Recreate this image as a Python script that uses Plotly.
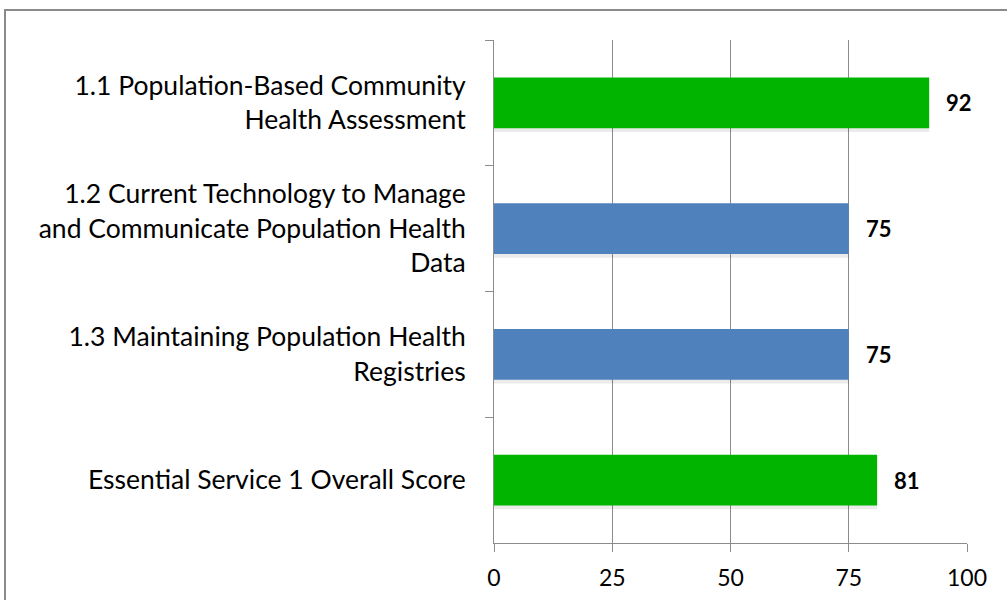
import plotly.graph_objects as go

categories = [
    "1.1 Population-Based Community<br>Health Assessment",
    "1.2 Current Technology to Manage<br>and Communicate Population Health<br>Data",
    "1.3 Maintaining Population Health<br>Registries",
    "Essential Service 1 Overall Score",
]
values = [92, 75, 75, 81]
colors = ["#00B400", "#4F81BD", "#4F81BD", "#00B400"]
tick_vals = [0, 25, 50, 75, 100]

W, H = 1007, 600
L, R, T, B = 494, 40, 40, 57
pw, ph = W - L - R, H - T - B
bar_w = 0.405

fig = go.Figure()
# soft shadow under the bars
fig.add_trace(go.Bar(
    y=categories, x=values, orientation="h",
    marker=dict(color="rgba(0,0,0,0.08)", line=dict(width=0)),
    width=bar_w, offset=-bar_w / 2 + 0.03, hoverinfo="skip",
))
fig.add_trace(go.Bar(
    y=categories, x=values, orientation="h",
    marker=dict(color=colors, line=dict(width=0)),
    width=bar_w, offset=-bar_w / 2, hoverinfo="skip",
))
for c, v in zip(categories, values):
    fig.add_annotation(x=v, y=c, text="<b>%d</b>" % v, showarrow=False,
                       xanchor="left", xshift=15,
                       font=dict(size=22, color="#000000", family="Lato"))

fig.add_shape(type="rect", xref="paper", yref="paper",
              x0=(5 - L) / pw, x1=1.3, y0=-0.3, y1=(H - B - 10) / ph,
              line=dict(color="#8a8a8a", width=2), fillcolor="rgba(0,0,0,0)")

fig.update_layout(
    width=W, height=H, autosize=False,
    margin=dict(l=L, r=R, t=T, b=B, pad=0, autoexpand=False),
    paper_bgcolor="white", plot_bgcolor="white",
    showlegend=False, barmode="overlay",
    font=dict(family="Lato", size=26.5, color="#000000"),
    xaxis=dict(range=[0, 100], tickvals=tick_vals, showgrid=True,
               gridcolor="#8c8c8c", gridwidth=1, zeroline=False,
               showline=True, linecolor="#8c8c8c", linewidth=1,
               ticks="outside", ticklen=8, tickcolor="#8c8c8c",
               ticklabelstandoff=6, automargin=False,
               tickfont=dict(size=23), fixedrange=True),
    yaxis=dict(autorange="reversed", showgrid=False, zeroline=False,
               showline=True, linecolor="#8c8c8c", linewidth=1,
               ticks="outside", ticklen=8, tickcolor="#8c8c8c",
               tickson="boundaries", ticklabelstandoff=22, automargin=False,
               tickfont=dict(size=26.5), fixedrange=True),
)
fig.write_html("out.html", config={"displayModeBar": False},
               post_script="document.body.style.margin='0';")
